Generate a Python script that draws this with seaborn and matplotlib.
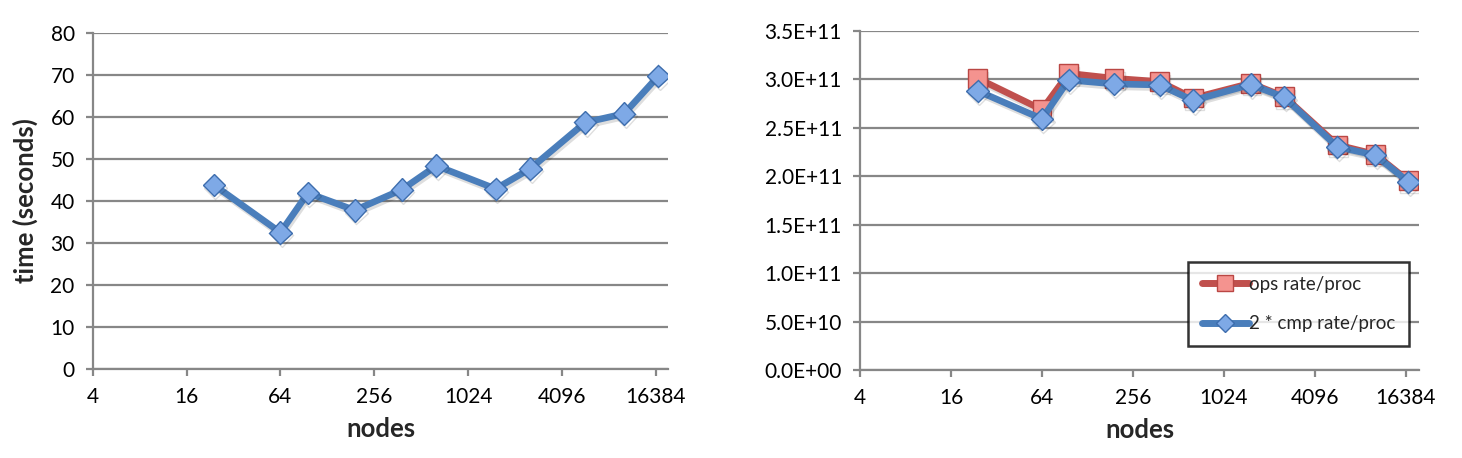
import matplotlib
matplotlib.use("Agg")
import matplotlib.pyplot as plt
import matplotlib.patheffects as pe
from matplotlib.lines import Line2D
import pandas as pd
import seaborn as sns

# -----------------------------
# data
# -----------------------------
nodes = [24, 64, 96, 192, 384, 640, 1536, 2560, 5760, 10240, 17000]
time_sec = [43.8, 32.5, 41.9, 37.8, 42.7, 48.4, 42.9, 47.7, 58.7, 60.8, 69.8]
ops_rate = [3.007e11, 2.684e11, 3.058e11, 3.007e11, 2.973e11, 2.803e11,
            2.956e11, 2.820e11, 2.320e11, 2.225e11, 1.950e11]
cmp_rate2 = [2.878e11, 2.589e11, 2.990e11, 2.949e11, 2.939e11, 2.779e11,
             2.942e11, 2.813e11, 2.300e11, 2.215e11, 1.940e11]
xticks = [4, 16, 64, 256, 1024, 4096, 16384]
left_yticks = [0, 10, 20, 30, 40, 50, 60, 70, 80]
right_yticks = [0, 0.5e11, 1.0e11, 1.5e11, 2.0e11, 2.5e11, 3.0e11, 3.5e11]

df_left = pd.DataFrame({"nodes": nodes, "time": time_sec})
df_right = pd.DataFrame({
    "nodes": nodes * 2,
    "rate": ops_rate + cmp_rate2,
    "series": ["ops rate/proc"] * len(nodes) + ["2 * cmp rate/proc"] * len(nodes),
})

sns.set_style("white")
plt.rcParams["font.family"] = ["Lato", "DejaVu Sans"]

GRID = "#878787"
BLUE, BLUE_FILL, BLUE_EDGE = "#4A7EBB", "#7EA9E6", "#3D6DAD"
RED, RED_FILL, RED_EDGE = "#C0504D", "#F4938F", "#BA4744"
shadow = [pe.SimpleLineShadow(offset=(1.0, -2.0), shadow_color="k", alpha=0.13), pe.Normal()]

fig = plt.figure(figsize=(14.62, 4.58), dpi=100)
ax1 = fig.add_axes([0.0634, 0.1943, 0.3937, 0.7336])
ax2 = fig.add_axes([0.5882, 0.1921, 0.3824, 0.7413])


def style_axis(ax, xmax):
    ax.set_xscale("log", base=2)
    ax.set_xlim(4, xmax)
    ax.set_xticks(xticks)
    ax.set_xticklabels([str(t) for t in xticks])
    ax.minorticks_off()
    ax.grid(axis="y", color=GRID, linewidth=1.6)
    ax.grid(axis="x", visible=False)
    ax.set_axisbelow(True)
    for s in ["top", "right"]:
        ax.spines[s].set_visible(False)
    for s in ["left", "bottom"]:
        ax.spines[s].set_color(GRID)
        ax.spines[s].set_linewidth(1.6)
    ax.tick_params(axis="both", which="major", direction="out", length=5, width=1.6,
                   color=GRID, labelsize=15, labelcolor="black", pad=8,
                   left=True, bottom=True)
    ax.set_xlabel("nodes", fontsize=18.5, fontweight="bold", labelpad=7)


# -----------------------------
# left panel: time
# -----------------------------
sns.lineplot(data=df_left, x="nodes", y="time", ax=ax1, color=BLUE, linewidth=4.8,
             marker="D", markersize=11.5, markerfacecolor=BLUE_FILL,
             markeredgecolor=BLUE_EDGE, markeredgewidth=1.0, path_effects=shadow)
style_axis(ax1, 16384 * 2 ** 0.262)
ax1.set_ylim(0, 80)
ax1.set_yticks(left_yticks)
ax1.set_ylabel("time (seconds)", fontsize=18.5, fontweight="bold", labelpad=9)

# -----------------------------
# right panel: rates
# -----------------------------
sns.lineplot(data=df_right, x="nodes", y="rate", hue="series", style="series",
             ax=ax2, palette={"ops rate/proc": RED, "2 * cmp rate/proc": BLUE},
             markers={"ops rate/proc": "s", "2 * cmp rate/proc": "D"},
             dashes=False, linewidth=4.8, markersize=11, legend=False,
             path_effects=shadow)
for line in ax2.get_lines():
    if line.get_marker() == "s":
        line.set_markerfacecolor(RED_FILL)
        line.set_markeredgecolor(RED_EDGE)
        line.set_markersize(13.5)
    else:
        line.set_markerfacecolor(BLUE_FILL)
        line.set_markeredgecolor(BLUE_EDGE)
        line.set_markersize(11.5)
    line.set_markeredgewidth(1.0)
style_axis(ax2, 16384 * 2 ** 0.286)
ax2.set_ylim(0, 3.5e11)
ax2.set_yticks(right_yticks)
ax2.set_yticklabels([f"{v:.1E}" for v in right_yticks])
ax2.set_ylabel("")

handles = [
    Line2D([], [], color=RED, linewidth=5, marker="s", markersize=11,
           markerfacecolor=RED_FILL, markeredgecolor=RED_EDGE),
    Line2D([], [], color=BLUE, linewidth=5, marker="D", markersize=9,
           markerfacecolor=BLUE_FILL, markeredgecolor=BLUE_EDGE),
]
leg = ax2.legend(handles, ["ops rate/proc", "2 * cmp rate/proc"],
                 loc="upper left", bbox_to_anchor=(0.586, 0.319), borderaxespad=0,
                 fontsize=13.5, frameon=True, fancybox=False, handlelength=2.5,
                 handletextpad=0.0, labelspacing=1.2, borderpad=0.75)
leg.get_frame().set_edgecolor("black")
leg.get_frame().set_linewidth(1.8)

fig.savefig("out.png", dpi=100)
